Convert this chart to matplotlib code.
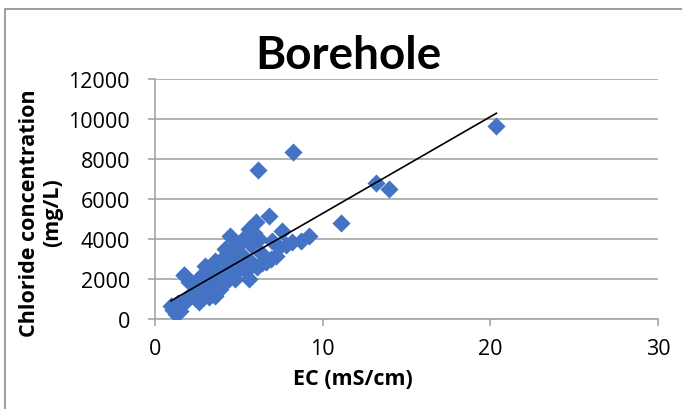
import numpy as np
import matplotlib.pyplot as plt
from matplotlib.patches import Rectangle

# EC (mS/cm) vs chloride (mg/L)
ec = [0.95, 1.1, 1.25, 1.4, 1.6, 1.75, 1.85, 2.0, 2.1, 2.3, 2.5, 2.6, 2.7, 2.8,
      3.0, 3.0, 3.1, 3.2, 3.3, 3.4, 3.5, 3.6, 3.6, 3.7, 3.8, 3.9, 4.0, 4.1,
      4.2, 4.3, 4.4, 4.5, 4.5, 4.6, 4.7, 4.8, 4.9, 5.0, 5.1, 5.2, 5.3, 5.4,
      5.5, 5.6, 5.6, 5.7, 5.8, 5.9, 6.0, 6.1, 6.2, 6.3, 6.4, 6.6, 6.8, 6.9,
      7.0, 7.2, 7.4, 7.6, 7.8, 8.2, 8.7, 9.2, 1.73, 6.15, 8.24, 11.1, 13.2,
      13.97, 20.36, 2.4, 3.3, 4.0, 4.8, 5.2, 1.5, 2.2, 3.5, 4.2]
chloride = [650, 450, 250, 800, 700, 2200, 1000, 1850, 1100, 1100, 1500, 850, 2100, 1200,
            2650, 1400, 1900, 1100, 2300, 1600, 2500, 1150, 2900, 1600, 2100, 1500, 3000, 1800,
            3500, 2400, 2000, 4150, 3200, 2800, 2300, 3600, 2700, 3300, 2600, 3900, 3000, 2400,
            4200, 4500, 2000, 3700, 2800, 4300, 4850, 2600, 4000, 3300, 2800, 2850, 5150, 3000,
            3900, 3150, 3600, 4400, 3700, 3850, 3900, 4150, 2200, 7450, 8350, 4800, 6800,
            6500, 9650, 1600, 1900, 2300, 2000, 3200, 400, 1300, 1800, 1900]

x_ticks = [0, 10, 20, 30]
y_ticks = [0, 2000, 4000, 6000, 8000, 10000, 12000]

font = 'Open Sans'
title_font = 'Lato'
fig = plt.figure(figsize=(6.82, 4.10), dpi=100)
fig.patches.append(Rectangle((5 / 682, -0.1), 1.2, 1 - 10 / 410 + 0.1, transform=fig.transFigure,
                             fill=False, edgecolor='#8c8c8c', linewidth=1.2))
ax = fig.add_axes([155 / 682, 1 - 320 / 410, 503 / 682, 240 / 410])

ax.scatter(ec, chloride, marker='D', s=85, color='#4472C4', linewidths=0, zorder=3)

# linear trendline
coef = np.polyfit(ec, chloride, 1)
xs = np.array([min(ec), max(ec)])
ax.plot(xs, np.polyval(coef, xs), color='black', linewidth=1.2, zorder=4)

ax.set_xlim(0, 30)
ax.set_ylim(0, 12000)
ax.set_xticks(x_ticks)
ax.set_yticks(y_ticks)
ax.set_xticklabels([str(v) for v in x_ticks], fontsize=15.5, fontfamily=font)
ax.set_yticklabels([str(v) for v in y_ticks], fontsize=15.5, fontfamily=font)
ax.grid(axis='y', color='#a6a6a6', linewidth=1.2)
ax.set_axisbelow(True)
for side in ['top', 'right']:
    ax.spines[side].set_visible(False)
for side in ['left', 'bottom']:
    ax.spines[side].set_color('#a6a6a6')
    ax.spines[side].set_linewidth(1.2)
ax.tick_params(axis='y', color='#a6a6a6', length=5, width=1.2, pad=13)
ax.tick_params(axis='x', color='#a6a6a6', length=5, width=1.2, pad=9)

fig.text(348 / 682, 1 - 56 / 410, 'Borehole', fontsize=33, fontweight='bold',
         fontfamily=title_font, ha='center', va='center')
fig.text(353 / 682, 1 - 380 / 410, 'EC (mS/cm)', fontsize=15.5, fontweight='bold',
         fontfamily=font, ha='center', va='center')
fig.text(41 / 682, 1 - 213 / 410, 'Chloride concentration\n(mg/L)', fontsize=15.5,
         fontweight='bold', fontfamily=font, ha='center', va='center',
         rotation=90, linespacing=1.15)

fig.savefig('out.png', dpi=100)
